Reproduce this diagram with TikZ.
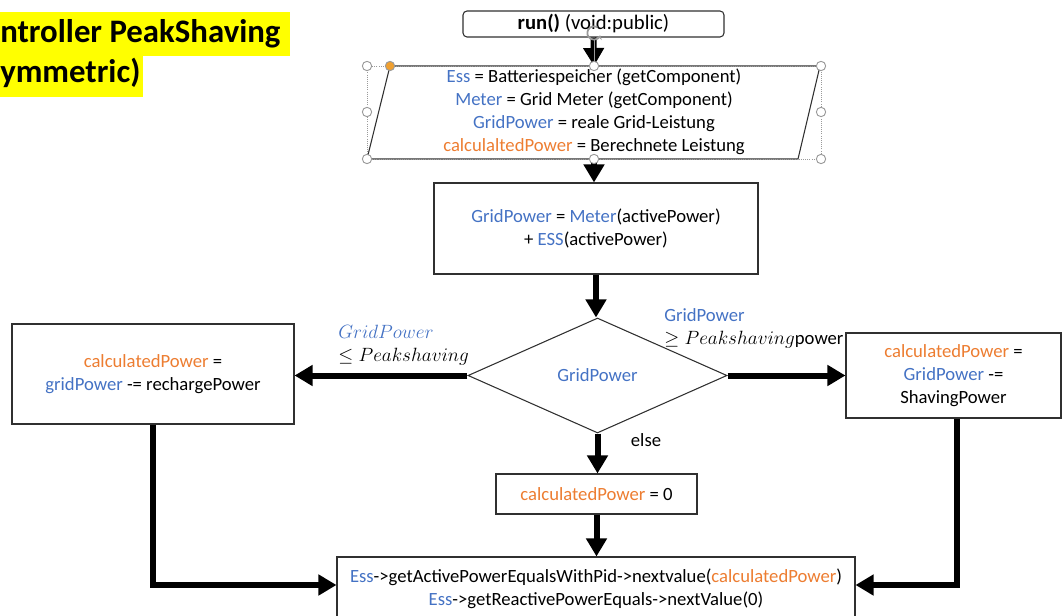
\documentclass[tikz,border=0pt]{standalone}
\usepackage{fontspec}
\setmainfont{Carlito}
\usetikzlibrary{arrows.meta,shapes.geometric,calc}
\definecolor{accblue}{HTML}{4472C4}
\definecolor{accorange}{HTML}{ED7D31}
\definecolor{hlyellow}{HTML}{FFFF00}
\definecolor{edgegray}{HTML}{303030}
\definecolor{handlegray}{HTML}{9A9A9A}
\definecolor{handleorange}{HTML}{F0A030}

\tikzset{
  txt/.style={font=\fontsize{14}{17.25}\selectfont, inner sep=0pt},
  box/.style={txt, draw=edgegray, line width=0.8pt, fill=white, align=center},
  flow/.style={line width=4.5pt, -{Triangle[width=15pt,length=13.5pt]}},
  handle/.style={draw=handlegray, fill=white, line width=0.7pt},
  titletxt/.style={inner sep=0pt, font=\fontsize{24.6}{30}\selectfont\bfseries},
}

\begin{document}
\begin{tikzpicture}[x=0.75pt,y=-0.75pt]
\useasboundingbox (0,0) rectangle (1062,616);

% title with highlight
\fill[hlyellow] (0,12) rectangle (290,56);
\fill[hlyellow] (0,56) rectangle (143,97);
\node[titletxt, anchor=base west] (title1) at (0,43) {ntroller PeakShaving};
\node[titletxt, anchor=base west] (title2) at (0,83) {ymmetric)};

% entry
\node[box, rounded corners=3pt, minimum width=195.75pt, minimum height=19.5pt, font=\fontsize{15.5}{18}\selectfont] (run) at (593.5,24) {\textbf{run()} (void:public)};

% initialisation (parallelogram)
\coordinate (inTop) at (594,66);
\coordinate (inBot) at (594,159);
\draw[edgegray, line width=0.8pt] (390,66) -- (820,66) -- (798,159) -- (367,159) -- cycle;
\node[txt, align=center] (init) at (594,112) {%
  {\color{accblue}Ess} = Batteriespeicher (getComponent)\\
  {\color{accblue}Meter} = Grid Meter (getComponent)\\
  {\color{accblue}GridPower} = reale Grid-Leistung\\
  {\color{accorange}calculaltedPower} = Berechnete Leistung};

% grid power computation
\node[box, minimum width=243pt, minimum height=68.25pt] (calc) at (596,228.5) {%
  {\color{accblue}GridPower} = {\color{accblue}Meter}(activePower)\\
  + {\color{accblue}ESS}(activePower)};

% decision
\node[txt, draw=edgegray, line width=0.8pt, diamond, minimum width=194.25pt, minimum height=86.25pt, text=accblue] (dec) at (597.5,375.5) {GridPower};

% branches
\node[box, minimum width=211.5pt, minimum height=75pt] (lbox) at (153,374) {%
  {\color{accorange}calculatedPower} =\\
  {\color{accblue}gridPower} -= rechargePower};
\node[box, minimum width=161.25pt, minimum height=63.75pt] (rbox) at (953.5,375.5) {%
  {\color{accorange}calculatedPower} =\\
  {\color{accblue}GridPower} -=\\
  ShavingPower};
\node[box, minimum width=150.75pt, minimum height=30pt] (zero) at (596.5,494) {%
  {\color{accorange}calculatedPower} = 0};

% output (its lower edge runs past the page)
\begin{scope}
\clip (0,0) rectangle (1062,616);
\node[box, minimum width=388.5pt, minimum height=48pt] (out) at (596,589) {%
  {\color{accblue}Ess}->getActivePowerEqualsWithPid->nextvalue({\color{accorange}calculatedPower})\\
  {\color{accblue}Ess}->getReactivePowerEquals->nextValue(0)};
\end{scope}

% branch labels
\node[txt, anchor=west, align=left] (lblL) at (338,345) {%
  {\color{accblue}$GridPower$}\\
  $\leq Peakshaving$};
\node[txt, anchor=west, align=left] (lblR) at (664,328.5) {%
  {\color{accblue}GridPower}\\
  $\geq Peakshaving$power};
\node[txt] (lblE) at (646,440) {else};

% connectors
\draw[flow] (run.south) -- (inTop);
\draw[flow] (inBot) -- (inBot |- calc.north);
\draw[flow] (calc.south) -- (calc.south |- dec.north);
\draw[flow] (dec.west) -- (dec.west -| lbox.east);
\draw[flow] (dec.east) -- (dec.east -| rbox.west);
\draw[flow] (dec.south) -- (dec.south |- zero.north);
\draw[flow] (zero.south) -- (zero.south |- out.north);
\draw[flow] (lbox.south) |- ([yshift=3pt]out.west);
\draw[flow] ([xshift=2.5pt]rbox.south) |- ([yshift=3pt]out.east);

% selection frame and handles
\draw[handlegray, densely dotted, line width=0.6pt] (367,66) rectangle (821,159);
\draw[handlegray, line width=0.6pt] (594,40) -- (594,66);
\foreach \hx/\hy in {367/66, 594/66, 821/66, 367/112, 821/112, 367/159, 594/159, 821/159}
  \draw[handle] (\hx,\hy) circle[radius=3.5pt];
\draw[draw=handlegray, fill=handleorange, line width=0.7pt] (390,66) circle[radius=3.5pt];
\draw[handlegray, line width=1.3pt, -{Stealth[length=3pt,width=4.5pt]}] ($(594,33)+(60:5pt)$) arc[start angle=60, end angle=340, radius=5pt];
\end{tikzpicture}
\end{document}
